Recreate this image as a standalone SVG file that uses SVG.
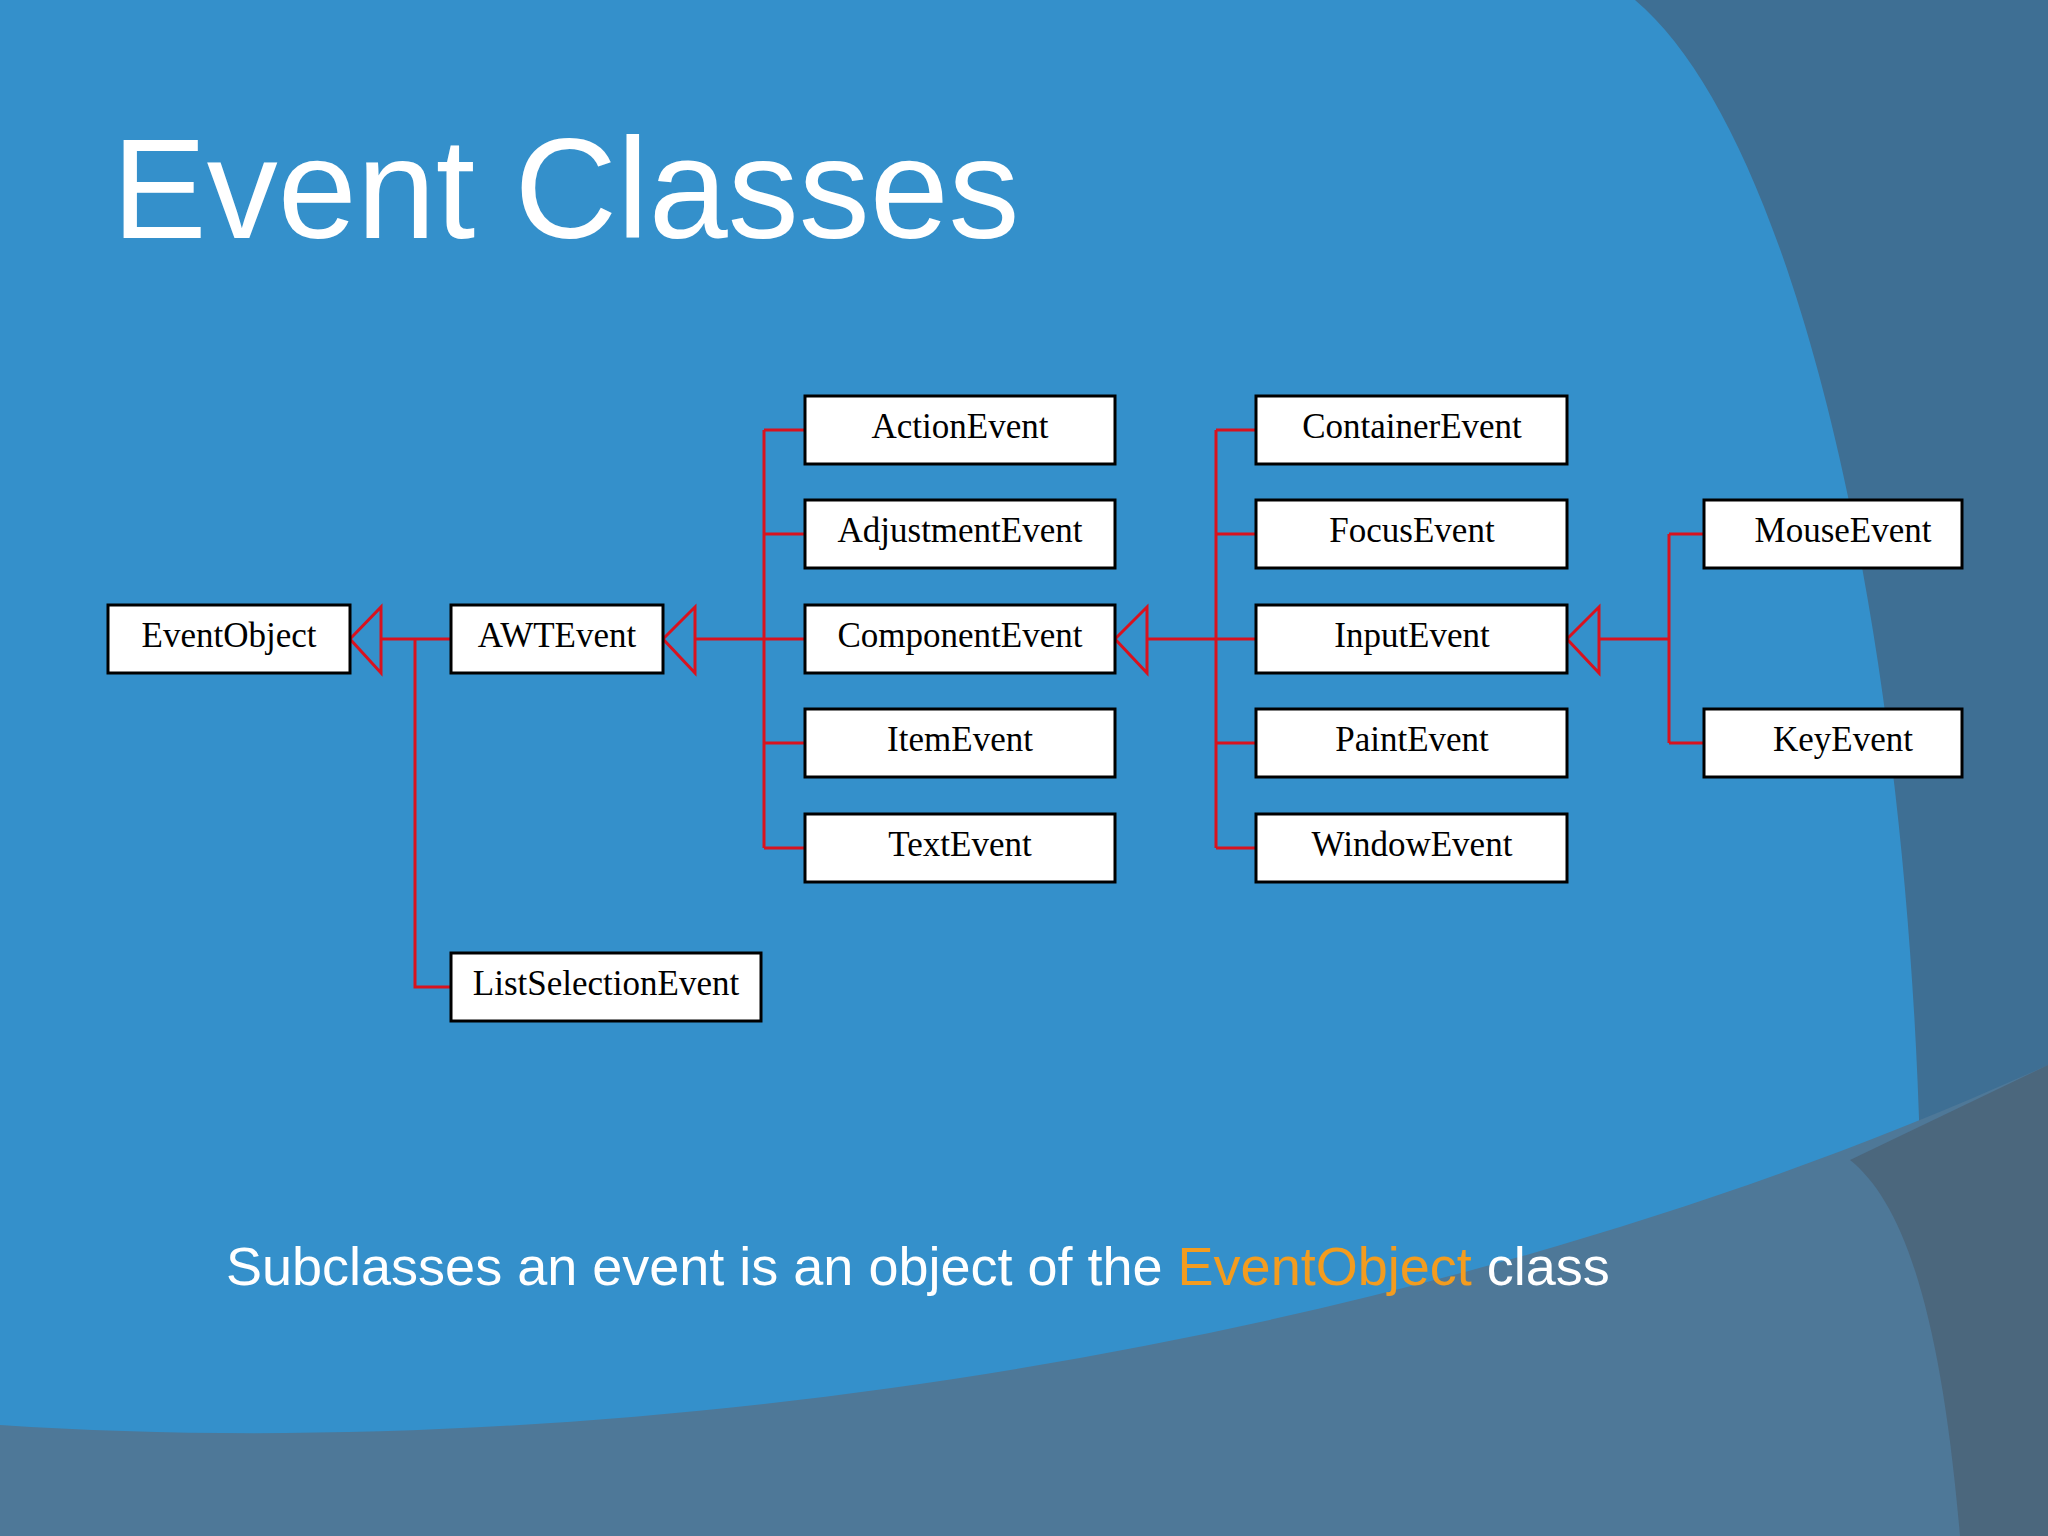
<svg xmlns="http://www.w3.org/2000/svg" width="2048" height="1536" viewBox="0 0 2048 1536">
<style>
.b{fill:#fff;stroke:#000;stroke-width:3}
.t{font-family:"Liberation Serif",serif;font-size:35px;fill:#000;text-anchor:middle}
.c{fill:none;stroke:#d8121f;stroke-width:3}
</style>
<rect width="2048" height="1536" fill="#3490cb"/>
<path d="M1635 0 C1790 130 1905 600 1920 1150 L2048 1536 L2048 0 Z" fill="#3e6f94"/>
<path d="M0 1425 C600 1465 1400 1360 2048 1065 L2048 1536 L0 1536 Z" fill="#4e7898"/>
<path d="M1850 1160 C1900 1200 1940 1300 1960 1536 L2048 1536 L2048 1065 Z" fill="#4a5f72" opacity="0.7"/>
<text x="112" y="238" font-family="Liberation Sans,Arial,sans-serif" font-size="142" fill="#fff">Event Classes</text>
<text x="226" y="1285" font-family="Liberation Sans,Arial,sans-serif" font-size="54" fill="#fff">Subclasses an event is an object of the <tspan fill="#f39c1f">EventObject</tspan> class</text>
<g id="connectors">
<path class="c" d="M350 639 L381 607 L381 673 Z M381 639 H451 M415 639 V987 H451"/>
<path class="c" d="M663 639 L695 607 L695 673 Z M695 639 H805 M764 430 V848 M764 430 H805 M764 534 H805 M764 743 H805 M764 848 H805"/>
<path class="c" d="M1115 639 L1147 607 L1147 673 Z M1147 639 H1256 M1216 430 V848 M1216 430 H1256 M1216 534 H1256 M1216 743 H1256 M1216 848 H1256"/>
<path class="c" d="M1567 639 L1599 607 L1599 673 Z M1599 639 H1669 M1669 534 V743 M1669 534 H1704 M1669 743 H1704"/>
</g>
<g id="EventObject"><rect class="b" x="108" y="605" width="242" height="68"/><text class="t" x="229" y="647">EventObject</text></g>
<g id="AWTEvent"><rect class="b" x="451" y="605" width="212" height="68"/><text class="t" x="557" y="647">AWTEvent</text></g>
<g id="ListSelectionEvent"><rect class="b" x="451" y="953" width="310" height="68"/><text class="t" x="606" y="995">ListSelectionEvent</text></g>
<g id="ActionEvent"><rect class="b" x="805" y="396" width="310" height="68"/><text class="t" x="960" y="438">ActionEvent</text></g>
<g id="AdjustmentEvent"><rect class="b" x="805" y="500" width="310" height="68"/><text class="t" x="960" y="542">AdjustmentEvent</text></g>
<g id="ComponentEvent"><rect class="b" x="805" y="605" width="310" height="68"/><text class="t" x="960" y="647">ComponentEvent</text></g>
<g id="ItemEvent"><rect class="b" x="805" y="709" width="310" height="68"/><text class="t" x="960" y="751">ItemEvent</text></g>
<g id="TextEvent"><rect class="b" x="805" y="814" width="310" height="68"/><text class="t" x="960" y="856">TextEvent</text></g>
<g id="ContainerEvent"><rect class="b" x="1256" y="396" width="311" height="68"/><text class="t" x="1412" y="438">ContainerEvent</text></g>
<g id="FocusEvent"><rect class="b" x="1256" y="500" width="311" height="68"/><text class="t" x="1412" y="542">FocusEvent</text></g>
<g id="InputEvent"><rect class="b" x="1256" y="605" width="311" height="68"/><text class="t" x="1412" y="647">InputEvent</text></g>
<g id="PaintEvent"><rect class="b" x="1256" y="709" width="311" height="68"/><text class="t" x="1412" y="751">PaintEvent</text></g>
<g id="WindowEvent"><rect class="b" x="1256" y="814" width="311" height="68"/><text class="t" x="1412" y="856">WindowEvent</text></g>
<g id="MouseEvent"><rect class="b" x="1704" y="500" width="258" height="68"/><text class="t" x="1843" y="542">MouseEvent</text></g>
<g id="KeyEvent"><rect class="b" x="1704" y="709" width="258" height="68"/><text class="t" x="1843" y="751">KeyEvent</text></g>
</svg>
